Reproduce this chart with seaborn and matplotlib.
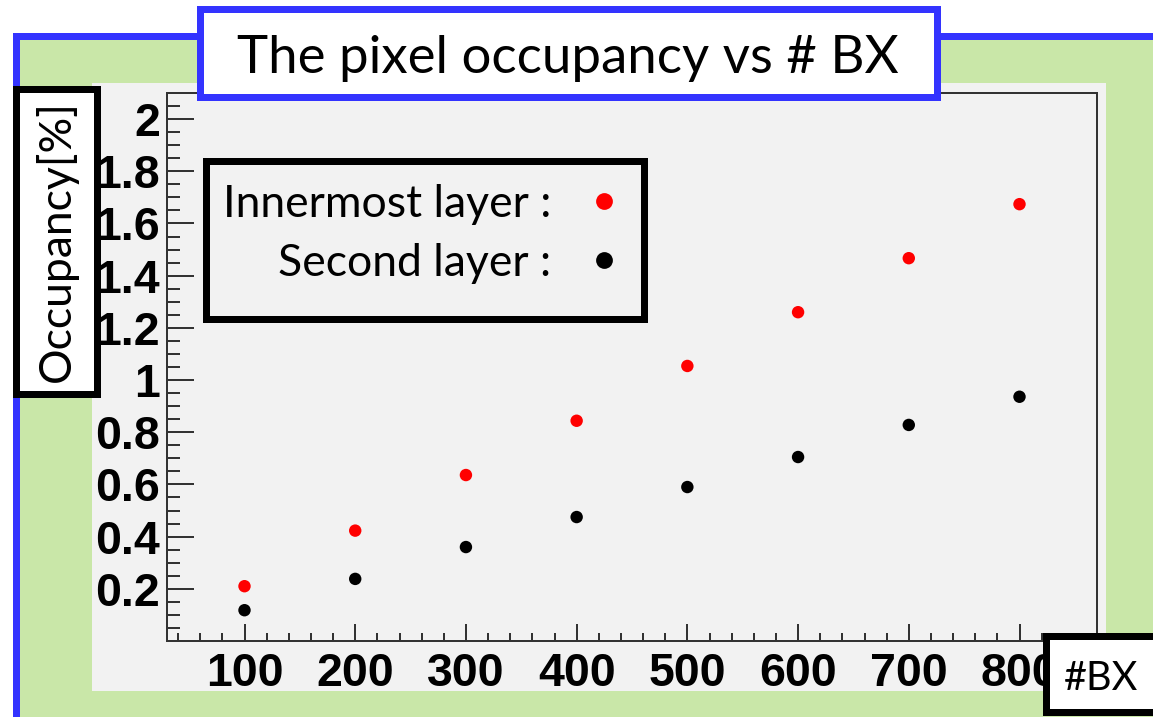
import matplotlib
matplotlib.use("Agg")
import matplotlib.pyplot as plt
import seaborn as sns
import pandas as pd
from matplotlib.patches import Rectangle
from matplotlib.ticker import MultipleLocator, FixedLocator

# ---------------- data ----------------
bx = [100, 200, 300, 400, 500, 600, 700, 800]
innermost = [0.21, 0.423, 0.636, 0.844, 1.054, 1.26, 1.467, 1.674]
second = [0.118, 0.238, 0.36, 0.475, 0.59, 0.705, 0.828, 0.936]
series_names = ["Innermost layer :", "Second layer :"]
series_colors = ["#ff0000", "#000000"]
title_text = "The pixel occupancy vs # BX"
xlabel_text = "#BX"
ylabel_text = "Occupancy[%]"
xticks = [100, 200, 300, 400, 500, 600, 700, 800]
yticks = [0.2, 0.4, 0.6, 0.8, 1.0, 1.2, 1.4, 1.6, 1.8, 2.0]
ytick_labels = ["0.2", "0.4", "0.6", "0.8", "1", "1.2", "1.4", "1.6", "1.8", "2"]

df = pd.DataFrame({
    "BX": bx + bx,
    "Occupancy": innermost + second,
    "layer": [series_names[0]] * len(bx) + [series_names[1]] * len(bx),
})

# ---------------- figure ----------------
W, H, DPI = 1153, 717, 100
sns.set_style("white")
plt.rcParams["font.family"] = ["Lato", "DejaVu Sans"]
plt.rcParams["text.color"] = "black"
plt.rcParams["xtick.color"] = "black"
plt.rcParams["ytick.color"] = "black"
plt.rcParams["xtick.labelcolor"] = "black"
plt.rcParams["ytick.labelcolor"] = "black"

fig = plt.figure(figsize=(W / DPI, H / DPI), dpi=DPI)
fig.patch.set_facecolor("white")


def fx(x):
    return x / W


def fy(y):
    return 1 - y / H


def pt(p):
    return p * 72 / DPI


def frame_rect(x0, y0, x1, y1, lw_px, edge, face, z):
    h = lw_px / 2
    r = Rectangle((fx(x0 + h), fy(y1 - h)), (x1 - x0 - lw_px) / W, (y1 - y0 - lw_px) / H,
                  transform=fig.transFigure, lw=pt(lw_px) if lw_px else 0,
                  edgecolor=edge, facecolor=face, zorder=z)
    fig.add_artist(r)
    return r


# outer green area with blue border
frame_rect(12, 32, 1170, 723, 7, "#3333ff", "#c9e7a8", -5)
# light gray panel
fig.add_artist(Rectangle((fx(92), fy(691)), (1106 - 92) / W, (691 - 83) / H,
                         transform=fig.transFigure, lw=0, facecolor="#f2f2f2", zorder=-4))

# axes
ax_l, ax_t, ax_r, ax_b = 167, 93, 1097, 641
ax = fig.add_axes([fx(ax_l), fy(ax_b), (ax_r - ax_l) / W, (ax_b - ax_t) / H])
ax.set_facecolor("none")

sns.scatterplot(data=df, x="BX", y="Occupancy", hue="layer", hue_order=series_names,
                palette=series_colors, s=80, linewidth=0, ax=ax, legend=True)

ax.set_xlim(30, 870)
ax.set_ylim(0, 2.1)
ax.set_xlabel("")
ax.set_ylabel("")

ax.xaxis.set_major_locator(FixedLocator(xticks))
ax.xaxis.set_minor_locator(MultipleLocator(20))
ax.yaxis.set_major_locator(FixedLocator(yticks))
ax.yaxis.set_minor_locator(MultipleLocator(0.05))
ax.set_yticklabels(ytick_labels)
ax.set_xticklabels([str(v) for v in xticks])

for lab in ax.get_xticklabels() + ax.get_yticklabels():
    lab.set_fontfamily(["Liberation Sans", "DejaVu Sans"])
    lab.set_fontweight("bold")
    lab.set_fontsize(33.5)
    lab.set_color("black")

ax.tick_params(axis="y", which="major", direction="in", length=pt(27), width=pt(2),
               color="#333333", pad=pt(7), left=True, right=False)
ax.tick_params(axis="y", which="minor", direction="in", length=pt(13), width=pt(2),
               color="#333333", left=True, right=False)
ax.tick_params(axis="x", which="major", direction="in", length=pt(17), width=pt(2),
               color="#333333", pad=pt(11), bottom=True, top=False)
ax.tick_params(axis="x", which="minor", direction="in", length=pt(8), width=pt(2),
               color="#333333", bottom=True, top=False)
for s in ax.spines.values():
    s.set_visible(True)
    s.set_color("#333333")
    s.set_linewidth(pt(2))

# legend box + legend (figure-level so it sits above the box)
frame_rect(202, 157, 648, 322, 7, "black", "#f2f2f2", 2)
handles, labels = ax.get_legend_handles_labels()
ax.get_legend().remove()
leg = fig.legend(handles, labels, loc="upper right", markerfirst=False, frameon=False,
                 prop={"family": ["Lato", "DejaVu Sans"], "size": 32},
                 bbox_to_anchor=(fx(616), fy(184)), bbox_transform=fig.transFigure,
                 borderpad=0, borderaxespad=0, handlelength=0.55, handletextpad=0.9,
                 labelspacing=0.4, markerscale=1.35)
leg.set_zorder(6)
for t in leg.get_texts():
    t.set_color("black")

# title box
frame_rect(196, 5, 940, 100, 7, "#3333ff", "white", 2)
fig.text(fx(568), fy(73), title_text, ha="center", va="baseline", fontsize=38,
         family=["Lato", "DejaVu Sans"], color="black", zorder=6)

# y label box
frame_rect(12, 85, 100, 397, 7, "black", "white", 2)
fig.text(fx(70), fy(241), ylabel_text, ha="center", va="baseline", rotation=90,
         rotation_mode="anchor", fontsize=32, family=["Lato", "DejaVu Sans"],
         color="black", zorder=6)

# x label box
frame_rect(1042, 632, 1175, 715, 7, "black", "white", 3)
fig.text(fx(1101), fy(690), xlabel_text, ha="center", va="baseline", fontsize=28.5,
         family=["Lato", "DejaVu Sans"], color="black", zorder=6)

fig.savefig("out.png", dpi=DPI)
